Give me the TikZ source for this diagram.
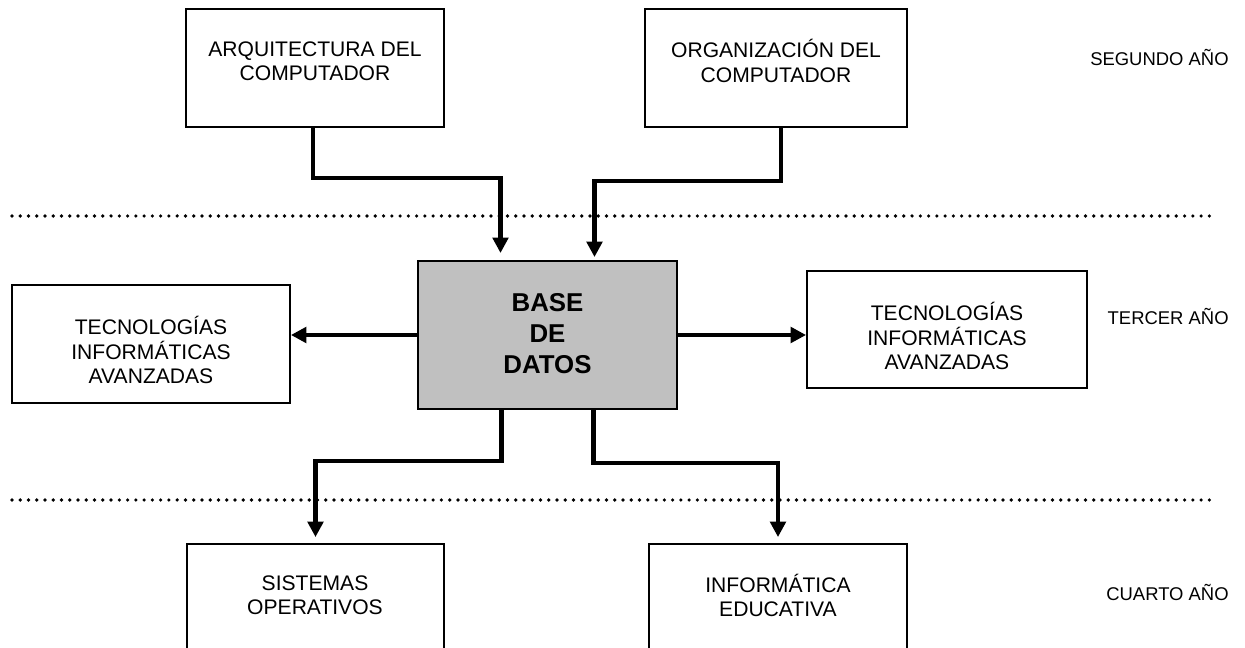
\documentclass[tikz,border=0pt]{standalone}
\usepackage{fontspec}
\setmainfont{Liberation Sans}
\usepackage{xcolor}
\usepackage{tikz}
\usetikzlibrary{arrows.meta,calc}
\definecolor{grisbd}{HTML}{C0C0C0}

\begin{document}
\begin{tikzpicture}[x=0.02cm, y=-0.02cm, >={Triangle[width=8.8pt,length=8.8pt]},
    caja/.style={rectangle, draw=black, line width=1.1pt, minimum height=2.36cm, inner sep=0pt},
    texto/.style={align=center, font=\fontsize{12}{13.7}\selectfont, inner sep=0pt},
    anio/.style={anchor=east, font=\fontsize{10.5}{12}\selectfont, inner sep=0pt},
    flecha/.style={->, line width=2.3pt},
    division/.style={line width=2.1pt, line cap=round, dash pattern=on 0pt off 4.7pt}]
    \useasboundingbox (0,0) rectangle (1245,648);

    % lineas entre los anios
    \coordinate (d1a) at (12,216);
    \coordinate (d1b) at (1213,216);
    \coordinate (d2a) at (12,500);
    \coordinate (d2b) at (1213,500);
    \draw[division] (d1a) -- (d1b);
    \draw[division] (d2a) -- (d2b);

    % cajas
    \node[caja, minimum width=5.16cm] (arq) at (315,68) {};
    \node[caja, minimum width=5.24cm] (org) at (776,68) {};
    \node[caja, minimum width=5.18cm, minimum height=2.96cm, fill=grisbd] (bd) at (547.5,335) {};
    \node[caja, minimum width=5.56cm] (tiaizq) at (151,344) {};
    \node[caja, minimum width=5.6cm, minimum height=2.34cm] (tiader) at (947,329.5) {};
    \node[caja, minimum width=5.14cm] (so) at (315.5,603) {};
    \node[caja, minimum width=5.16cm] (ie) at (778,603) {};

    % textos
    \node[texto] (arqt) at (315,61) {ARQUITECTURA DEL\\COMPUTADOR};
    \node[texto] (orgt) at (776,61) {ORGANIZACIÓN DEL\\COMPUTADOR};
    \node[texto, font=\fontsize{14.7}{17.6}\selectfont\bfseries] (bdt) at (547.5,334) {BASE\\DE\\DATOS};
    \node[texto] (tiaizqt) at (151,350) {TECNOLOGÍAS\\INFORMÁTICAS\\AVANZADAS};
    \node[texto] (tiadert) at (947,336) {TECNOLOGÍAS\\INFORMÁTICAS\\AVANZADAS};
    \node[texto] (sot) at (315,595) {SISTEMAS\\OPERATIVOS};
    \node[texto] (iet) at (778,595) {INFORMÁTICA\\EDUCATIVA};

    % anios
    \node[anio] (segundo) at (1229,57) {SEGUNDO AÑO};
    \node[anio] (tercero) at (1229,316) {TERCER AÑO};
    \node[anio] (cuarto) at (1229,592) {CUARTO AÑO};

    % conexiones
    \draw[flecha, shorten >=4pt] ($(arq.south)+(-2,0)$) -- ++(0,50) -| ($(bd.north)+(-47,0)$);
    \draw[flecha, shorten >=1.7pt] ($(org.south)+(5,0)$) -- ++(0,53) -| ($(bd.north)+(47,0)$);
    \draw[flecha] (bd.west) -- (tiaizq.east |- bd.west);
    \draw[flecha] (bd.east) -- (tiader.west |- bd.east);
    \draw[flecha, shorten >=3.4pt] ($(bd.south)+(-46,0)$) -- ++(0,51) -| (so.north);
    \draw[flecha, shorten >=3.4pt] ($(bd.south)+(46,0)$) -- ++(0,53) -| (ie.north);
\end{tikzpicture}
\end{document}
